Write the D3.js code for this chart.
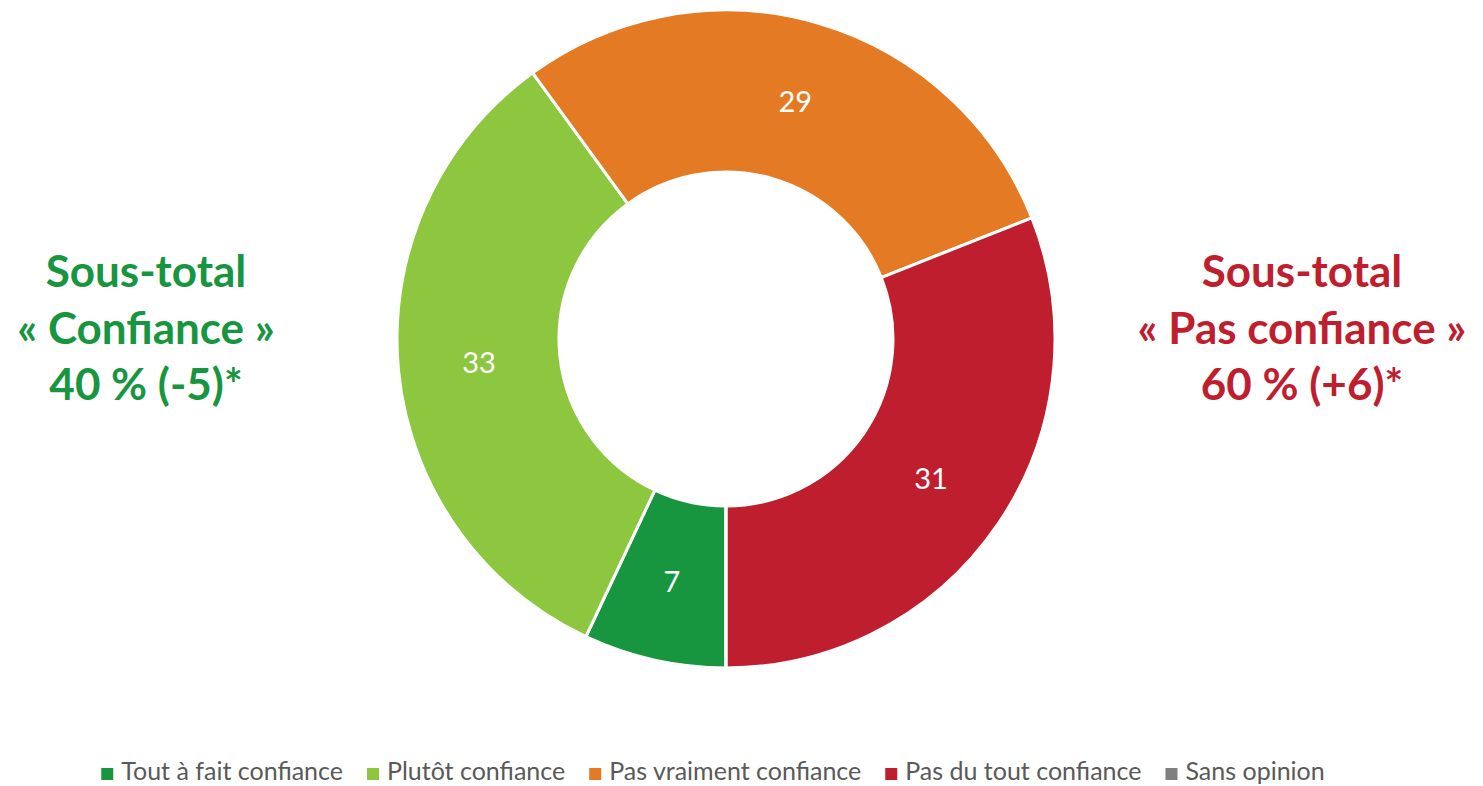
<!DOCTYPE html>
<html>
<head>
<meta charset="utf-8">
<script src="https://cdn.jsdelivr.net/npm/d3@7"></script>
<style>
  body { margin: 0; background: #fff; }
  svg text { font-family: Lato, "Open Sans", sans-serif; }
</style>
</head>
<body>
<svg id="chart"></svg>
<script>
var categories = ["Tout à fait confiance", "Plutôt confiance", "Pas vraiment confiance", "Pas du tout confiance", "Sans opinion"];
var values = [7, 33, 29, 31, 0];
var colors = ["#17963f", "#8dc63f", "#e47a24", "#be1e2e", "#808080"];

var leftTitle = ["Sous-total", "« Confiance »", "40 % (-5)*"];
var rightTitle = ["Sous-total", "« Pas confiance »", "60 % (+6)*"];

var width = 1483;
var height = 786;
var cx = 726, cy = 339;
var outerR = 329, innerR = 167;

var svg = d3.select('#chart')
  .attr('width', width)
  .attr('height', height);

var pie = d3.pie()
  .sort(null)
  .value(function(d) { return d; })
  .startAngle(Math.PI)
  .endAngle(3 * Math.PI);

var arc = d3.arc()
  .innerRadius(innerR)
  .outerRadius(outerR);

var arcs = pie(values);

var g = svg.append('g')
  .attr('transform', 'translate(' + cx + ',' + cy + ')');

g.selectAll('path')
  .data(arcs)
  .enter()
  .append('path')
  .attr('d', arc)
  .attr('fill', function(d, i) { return colors[i]; })
  .attr('stroke', '#fff')
  .attr('stroke-width', 3);

g.selectAll('text.val')
  .data(arcs.filter(function(d) { return d.value > 0; }))
  .enter()
  .append('text')
  .attr('class', 'val')
  .attr('transform', function(d) { return 'translate(' + arc.centroid(d) + ')'; })
  .attr('text-anchor', 'middle')
  .attr('dy', '0.38em')
  .attr('fill', '#fff')
  .style('font-size', '29px')
  .text(function(d) { return d.value; });

// sous-totaux
function subtotal(lines, x, color) {
  svg.append('g')
    .selectAll('text')
    .data(lines)
    .enter()
    .append('text')
    .attr('x', x)
    .attr('y', function(d, i) { return 287 + i * 56.5; })
    .attr('text-anchor', 'middle')
    .attr('fill', color)
    .style('font-size', '44px')
    .style('font-weight', 'bold')
    .text(function(d) { return d; });
}
subtotal(leftTitle, 146, colors[0]);
subtotal(rightTitle, 1302, colors[3]);

// légende
var legend = svg.append('g');
var items = legend.selectAll('g')
  .data(categories)
  .enter()
  .append('g');
items.append('rect')
  .attr('width', 12)
  .attr('height', 12)
  .attr('y', -12)
  .attr('fill', function(d, i) { return colors[i]; });
items.append('text')
  .attr('x', 20)
  .attr('fill', '#595959')
  .style('font-size', '25px')
  .text(function(d) { return d; });

var gap = 24;
var x = 0;
items.each(function() {
  var w = d3.select(this).select('text').node().getComputedTextLength();
  d3.select(this).attr('transform', 'translate(' + x + ',0)');
  x += 20 + w + gap;
});
var total = x - gap;
legend.attr('transform', 'translate(' + (713 - total / 2) + ',780)');
</script>
</body>
</html>
